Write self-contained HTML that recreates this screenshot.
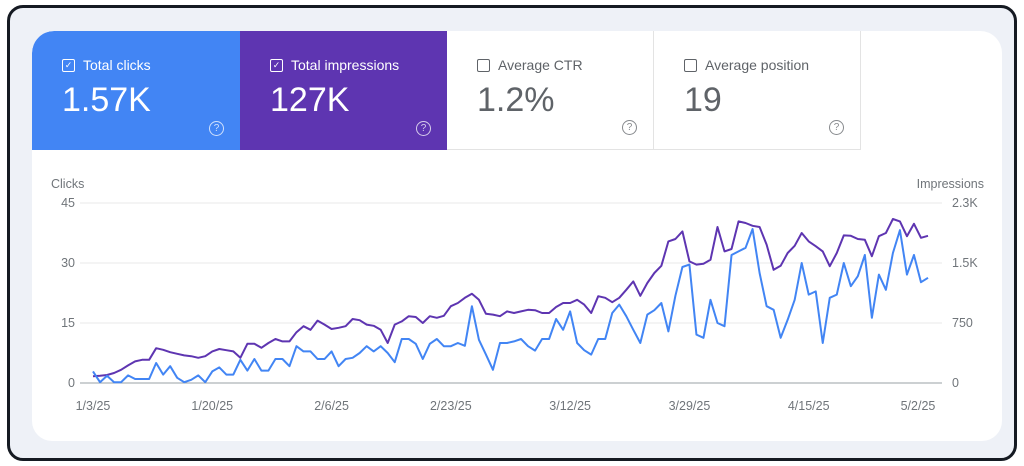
<!DOCTYPE html>
<html><head><meta charset="utf-8"><style>
body{margin:0;width:1024px;height:466px;background:#fff;font-family:"Liberation Sans",sans-serif;overflow:hidden;position:relative}
.frame{position:absolute;left:7px;top:5px;width:1004px;height:450px;border:3px solid #151a22;border-radius:16px;background:#eef1f7}
.panel{position:absolute;left:32px;top:31px;width:970px;height:410px;background:#fff;border-radius:22px 22px 20px 20px;overflow:hidden}
.card{position:absolute;top:0;height:119px;box-sizing:border-box;padding:26px 0 0 30px}
.card .lbl{font-size:14px;display:flex;align-items:center}
.card .box{width:11px;height:11px;border:1.5px solid currentColor;border-radius:2px;margin-right:8px;font-size:9px;line-height:11px;text-align:center}
.card .val{font-size:34px;margin-top:8px}
.card .q{position:absolute;right:16px;bottom:14px;width:13px;height:13px;border:1.5px solid currentColor;border-radius:50%;font-size:10px;text-align:center;line-height:13px;opacity:.75}
</style></head><body>
<div class="frame"></div>
<div class="panel">
<div class="card" style="left:0;width:208px;background:#4285f4;color:#fff;border-top-left-radius:22px"><div class="lbl"><span class="box">✓</span>Total clicks</div><div class="val">1.57K</div><div class="q">?</div></div>
<div class="card" style="left:208px;width:207px;background:#5e35b1;color:#fff"><div class="lbl"><span class="box">✓</span>Total impressions</div><div class="val">127K</div><div class="q">?</div></div>
<div class="card" style="left:415px;width:207px;color:#5f6368;border-right:1px solid #e3e3e3;border-bottom:1px solid #e3e3e3"><div class="lbl"><span class="box"></span>Average CTR</div><div class="val">1.2%</div><div class="q">?</div></div>
<div class="card" style="left:622px;width:207px;color:#5f6368;border-right:1px solid #e3e3e3;border-bottom:1px solid #e3e3e3"><div class="lbl"><span class="box"></span>Average position</div><div class="val">19</div><div class="q">?</div></div>
</div>
<svg id="chart" width="1024" height="466" style="position:absolute;left:0;top:0"></svg>
<script>
const clicks=[2.9,0.2,1.8,0.2,0.2,1.9,1,1,1,5,2.1,4.2,1.3,0.2,0.8,1.9,0.2,2.9,3.9,2.1,2.1,5.8,3.1,6,3.1,3.1,6,6,4.2,9.2,7.9,7.9,6,6,7.9,4.2,6,6.3,7.5,9.2,7.9,9.2,7.5,5.2,11,11,9.8,6,9.8,11,9.2,9.2,10,9.3,19.2,10.8,7.1,3.3,10,10,10.4,11,9.2,8.1,11,11,16,13.3,17.9,10,8.2,7.1,11,11,17.5,19.6,16.7,13.3,10,17.1,18.2,20,12.9,21.8,29,29.6,12.1,11.3,20.8,15,14.2,32,32.9,33.8,38.5,27.5,19.2,18.3,11.3,15.8,20.8,30,22.1,22.9,10,21.3,22.1,30,24.2,26.7,32,16.3,27.1,23.3,32.5,38.2,27.1,32,25.2,26.3];
const impressions=[85,90,100,125,165,220,270,290,290,435,415,385,365,345,335,315,335,395,425,410,395,315,490,490,440,500,550,520,520,635,710,665,780,730,675,690,710,800,785,730,715,665,500,730,770,835,825,750,835,815,840,960,1000,1065,1115,1040,865,855,835,895,875,895,915,910,875,875,950,1000,1000,1040,980,875,1085,1065,1010,1065,1165,1270,1090,1250,1375,1465,1770,1800,1895,1520,1480,1490,1540,1950,1645,1675,2020,2000,1965,1950,1730,1415,1465,1625,1715,1875,1770,1710,1645,1460,1625,1845,1840,1800,1790,1585,1835,1875,2050,2020,1835,1990,1815,1840];
const leftTicks=[0,15,30,45];
const rightTicks=["0","750","1.5K","2.3K"];
const xLabels=["1/3/25","1/20/25","2/6/25","2/23/25","3/12/25","3/29/25","4/15/25","5/2/25"];
const NS="http://www.w3.org/2000/svg",svg=document.getElementById('chart');
const X=i=>93+i*(835/(clicks.length-1));
const Yc=v=>383-v*4;
const Yi=v=>383-v*(180/2250);
function mk(t,a){const e=document.createElementNS(NS,t);for(const k in a)e.setAttribute(k,a[k]);svg.appendChild(e);return e;}
function txt(s,x,y,anchor,name){const e=mk('text',{x:x,y:y,'text-anchor':anchor,'font-size':12.5,fill:'#70757a','font-family':'Liberation Sans, sans-serif'});e.textContent=s;

return e;}
leftTicks.forEach((t,k)=>{const y=Yc(t);const l=mk('line',{x1:80,x2:942,y1:y,y2:y,stroke:t==0?'#9aa0a6':'#e8e8e8','stroke-width':1});


txt(String(t),75,y+4,'end','left-tick-label');txt(rightTicks[k],952,y+4,'start','right-tick-label');});
txt('Clicks',51,188,'start','y-axis-title-clicks');txt('Impressions',984,188,'end','y-axis-title-impressions');
xLabels.forEach((s,k)=>{const x=k==xLabels.length-1?918:X(k*17);txt(s,x,410,'middle','x-tick-label');});
function line(arr,Y,color,name){const p=mk('polyline',{points:arr.map((v,i)=>X(i)+','+Y(v)).join(' '),fill:'none',stroke:color,'stroke-width':2,'stroke-linejoin':'round'});

}
line(impressions,Yi,'#5e35b1','impressions-line');
line(clicks,Yc,'#4285f4','clicks-line');
</script>
</body></html>
